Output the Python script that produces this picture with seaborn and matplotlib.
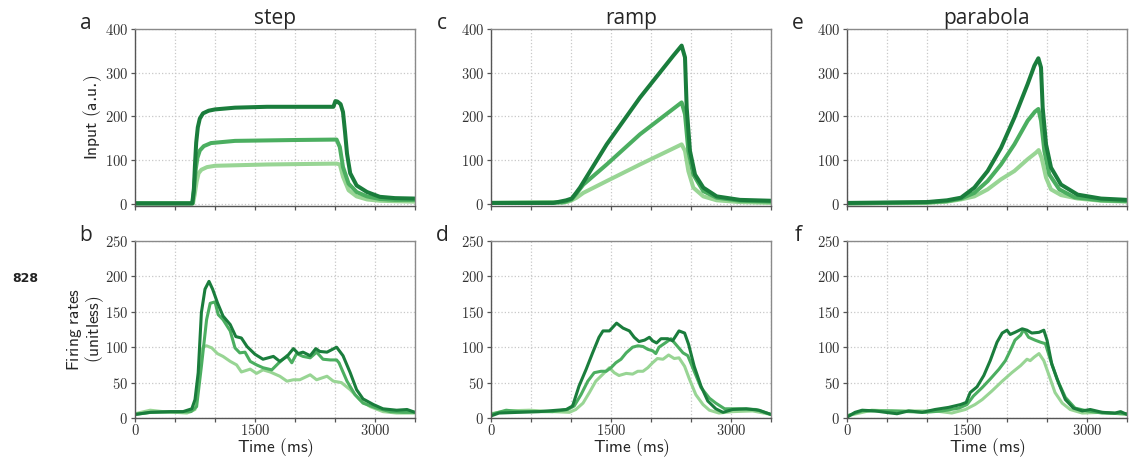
import numpy as np
import pandas as pd
import seaborn as sns
import matplotlib
matplotlib.use("Agg")
import matplotlib.pyplot as plt
from matplotlib.ticker import FuncFormatter, MultipleLocator

# ---------------- data ----------------
levels = ["low", "mid", "high"]
colors = {"low": "#98d594", "mid": "#4bae60", "high": "#1a7d3c"}

# step input (panel a)
step_in_t_high = [0, 715, 735, 750, 765, 785, 810, 850, 920, 1000, 1250, 1650, 2480, 2505, 2530, 2570, 2600, 2625, 2650, 2690, 2770, 2900, 3060, 3250, 3500]
step_in_high   = [1, 1, 30, 90, 140, 175, 195, 207, 213, 216, 220, 222, 222, 235, 234, 228, 210, 165, 115, 70, 42, 27, 16, 13, 12]
step_in_t_mid  = [0, 720, 740, 760, 780, 810, 860, 950, 1250, 2000, 2520, 2560, 2600, 2670, 2770, 2900, 3060, 3250, 3500]
step_in_mid    = [1, 1, 40, 80, 105, 122, 132, 139, 144, 146, 147, 130, 84, 46, 27, 17, 11, 9, 9]
step_in_t_low  = [0, 725, 745, 770, 795, 830, 900, 1000, 1650, 2520, 2560, 2600, 2670, 2770, 2900, 3060, 3250, 3500]
step_in_low    = [1, 1, 20, 50, 70, 78, 84, 87, 90, 92, 90, 62, 31, 17, 10, 7, 6, 5]

# ramp input (panel c)
ramp_in_t_high = [0, 780, 862, 940, 1008, 1060, 1112, 1446, 1862, 2279, 2383, 2425, 2446, 2487, 2550, 2654, 2821, 3112, 3500]
ramp_in_high   = [2, 2, 5, 8, 12, 24, 37, 136, 243, 339, 362, 335, 220, 121, 67, 37, 17, 9, 7]
ramp_in_t_mid  = [0, 900, 1008, 1070, 1154, 1446, 1862, 2383, 2425, 2467, 2529, 2654, 2821, 3112, 3500]
ramp_in_mid    = [2, 3, 10, 24, 44, 90, 159, 232, 205, 121, 67, 29, 14, 7, 5]
ramp_in_t_low  = [0, 950, 1008, 1070, 1154, 1446, 1862, 2383, 2425, 2467, 2529, 2654, 2821, 3112, 3500]
ramp_in_low    = [2, 4, 8, 14, 25, 52, 90, 136, 121, 75, 37, 17, 8, 4, 2]

# parabola input (panel e)
para_in_t_high = [0, 1000, 1250, 1425, 1592, 1758, 1925, 2092, 2258, 2342, 2392, 2425, 2446, 2488, 2550, 2675, 2883, 3175, 3500]
para_in_high   = [2, 4, 8, 14, 37, 75, 128, 197, 274, 316, 333, 312, 220, 136, 83, 44, 21, 12, 9]
para_in_t_mid  = [0, 1000, 1250, 1425, 1592, 1758, 1925, 2092, 2258, 2350, 2392, 2425, 2467, 2529, 2654, 2842, 3175, 3500]
para_in_mid    = [1, 3, 6, 12, 25, 52, 90, 136, 190, 211, 217, 190, 121, 67, 33, 15, 8, 6]
para_in_t_low  = [0, 1000, 1250, 1425, 1592, 1758, 1925, 2092, 2258, 2362, 2396, 2433, 2488, 2550, 2675, 2883, 3175, 3500]
para_in_low    = [1, 2, 5, 10, 17, 33, 56, 75, 102, 117, 123, 105, 60, 33, 20, 12, 7, 5]

# firing rates, step (panel b)
step_fr_t_high = [0, 190, 440, 600, 710, 750, 790, 830, 875, 925, 970, 1030, 1100, 1190, 1260, 1330, 1400, 1500, 1600, 1730, 1810, 1900, 1980, 2040, 2100, 2190, 2260, 2310, 2400, 2520, 2600, 2690, 2770, 2850, 2980, 3100, 3270, 3400, 3500]
step_fr_high   = [5, 8, 9, 9, 13, 26, 64, 149, 182, 193, 182, 163, 144, 132, 115, 113, 101, 90, 83, 87, 80, 87, 98, 91, 93, 88, 98, 94, 93, 100, 88, 64, 40, 27, 19, 13, 11, 12, 8]
step_fr_t_mid  = [0, 200, 700, 770, 830, 895, 940, 1000, 1040, 1100, 1190, 1250, 1310, 1375, 1440, 1520, 1600, 1710, 1790, 1900, 1960, 2020, 2100, 2190, 2270, 2350, 2440, 2520, 2550, 2650, 2750, 2850, 3020, 3190, 3350, 3500]
step_fr_mid    = [5, 8, 9, 16, 73, 139, 162, 164, 146, 139, 123, 99, 92, 93, 80, 75, 71, 68, 77, 88, 78, 91, 87, 85, 93, 83, 82, 82, 78, 52, 33, 21, 14, 9, 8, 8]
step_fr_t_low  = [0, 190, 350, 650, 750, 790, 820, 855, 895, 960, 1030, 1100, 1190, 1270, 1330, 1440, 1520, 1600, 1690, 1810, 1900, 1980, 2060, 2190, 2270, 2400, 2480, 2580, 2690, 2810, 2940, 3100, 3270, 3500]
step_fr_low    = [6, 11, 9, 7, 12, 50, 92, 101, 102, 99, 91, 87, 80, 75, 65, 69, 63, 68, 65, 59, 52, 54, 54, 61, 54, 59, 52, 50, 40, 26, 16, 9, 7, 7]

# firing rates, ramp (panel d)
ramp_fr_t_high = [0, 100, 350, 600, 940, 1020, 1100, 1190, 1270, 1350, 1400, 1480, 1570, 1650, 1730, 1790, 1850, 1920, 1980, 2020, 2070, 2125, 2210, 2270, 2350, 2420, 2470, 2540, 2625, 2710, 2810, 2900, 3020, 3190, 3350, 3500]
ramp_fr_high   = [3, 7, 8, 9, 12, 17, 45, 69, 92, 114, 123, 123, 134, 127, 123, 114, 108, 110, 114, 109, 106, 112, 112, 109, 123, 120, 104, 73, 45, 24, 13, 8, 12, 13, 11, 5]
ramp_fr_t_mid  = [0, 190, 350, 770, 960, 1040, 1125, 1210, 1290, 1375, 1440, 1500, 1560, 1625, 1690, 1770, 1835, 1900, 1960, 2020, 2060, 2100, 2190, 2250, 2310, 2400, 2460, 2540, 2625, 2730, 2810, 2920, 3100, 3310, 3500]
ramp_fr_mid    = [5, 11, 9, 9, 12, 17, 33, 52, 64, 66, 66, 71, 78, 83, 92, 100, 102, 101, 97, 95, 91, 100, 107, 112, 104, 92, 88, 66, 43, 28, 21, 13, 13, 12, 5]
ramp_fr_t_low  = [0, 190, 480, 770, 980, 1060, 1150, 1230, 1310, 1400, 1480, 1540, 1600, 1690, 1770, 1835, 1900, 1960, 2020, 2080, 2150, 2220, 2290, 2350, 2420, 2480, 2560, 2650, 2730, 2850, 3020, 3270, 3500]
ramp_fr_low    = [6, 10, 11, 9, 8, 12, 21, 36, 52, 62, 71, 64, 60, 63, 62, 66, 66, 71, 78, 84, 83, 89, 84, 85, 73, 55, 33, 19, 11, 7, 9, 10, 5]

# firing rates, parabola (panel f)
para_fr_t_high = [0, 100, 190, 350, 480, 625, 770, 940, 1100, 1270, 1420, 1490, 1540, 1625, 1710, 1790, 1875, 1940, 2000, 2040, 2100, 2190, 2250, 2310, 2400, 2460, 2500, 2560, 2650, 2730, 2830, 2940, 3040, 3190, 3350, 3420, 3500]
para_fr_high   = [1, 8, 11, 10, 8, 6, 10, 8, 12, 15, 19, 22, 36, 44, 60, 81, 107, 120, 124, 118, 121, 126, 124, 120, 121, 124, 110, 76, 48, 26, 14, 10, 12, 8, 7, 9, 5]
para_fr_t_mid  = [0, 190, 560, 980, 1190, 1400, 1500, 1580, 1690, 1790, 1900, 1980, 2040, 2100, 2170, 2210, 2270, 2350, 2420, 2480, 2540, 2625, 2730, 2850, 3000, 3190, 3500]
para_fr_mid    = [3, 10, 10, 8, 10, 14, 19, 31, 43, 55, 69, 81, 95, 110, 117, 125, 114, 110, 107, 105, 83, 55, 29, 14, 10, 7, 6]
para_fr_t_low  = [0, 310, 560, 850, 1100, 1310, 1480, 1600, 1690, 1810, 1940, 2060, 2170, 2250, 2290, 2340, 2400, 2460, 2520, 2600, 2690, 2790, 2940, 3190, 3500]
para_fr_low    = [3, 11, 10, 10, 10, 7, 12, 19, 26, 38, 52, 64, 74, 83, 81, 86, 91, 81, 62, 36, 21, 12, 7, 8, 5]

titles = ["step", "ramp", "parabola"]
top_letters = ["a", "c", "e"]
bottom_letters = ["b", "d", "f"]

def frame(pairs):
    rows = []
    for lev, t, v in pairs:
        rows.append(pd.DataFrame({"t": t, "v": v, "level": lev}))
    return pd.concat(rows, ignore_index=True)

inputs = [
    frame([("low", step_in_t_low, step_in_low), ("mid", step_in_t_mid, step_in_mid), ("high", step_in_t_high, step_in_high)]),
    frame([("low", ramp_in_t_low, ramp_in_low), ("mid", ramp_in_t_mid, ramp_in_mid), ("high", ramp_in_t_high, ramp_in_high)]),
    frame([("low", para_in_t_low, para_in_low), ("mid", para_in_t_mid, para_in_mid), ("high", para_in_t_high, para_in_high)]),
]
rates = [
    frame([("low", step_fr_t_low, step_fr_low), ("mid", step_fr_t_mid, step_fr_mid), ("high", step_fr_t_high, step_fr_high)]),
    frame([("low", ramp_fr_t_low, ramp_fr_low), ("mid", ramp_fr_t_mid, ramp_fr_mid), ("high", ramp_fr_t_high, ramp_fr_high)]),
    frame([("low", para_fr_t_low, para_fr_low), ("mid", para_fr_t_mid, para_fr_mid), ("high", para_fr_t_high, para_fr_high)]),
]

# ---------------- style ----------------
sns.set_style("ticks")
plt.rcParams["mathtext.fontset"] = "cm"
plt.rcParams["font.family"] = ["DejaVu Sans"]

fig = plt.figure(figsize=(11.38, 4.61), dpi=100)
W, H = 1138.0, 461.0
lefts = [135, 491, 847]
aw = 280

math_fmt = FuncFormatter(lambda v, p: "$%d$" % int(round(v)))
def x_fmt(v, p):
    iv = int(round(v))
    return "$%d$" % iv if iv in (0, 1500, 3000) else ""

def style(ax, ystep, bottom_row):
    ax.set_xlim(0, 3500)
    ax.xaxis.set_major_locator(MultipleLocator(500))
    ax.yaxis.set_major_locator(MultipleLocator(ystep))
    ax.yaxis.set_major_formatter(math_fmt)
    ax.xaxis.set_major_formatter(FuncFormatter(x_fmt))
    ax.grid(True, linestyle=":", color="#c8c8c8", linewidth=0.9)
    ax.set_axisbelow(True)
    for s in ["left", "bottom"]:
        ax.spines[s].set_color("#555555")
        ax.spines[s].set_linewidth(1.0)
    for s in ["top", "right"]:
        ax.spines[s].set_color("#8a8a8a")
        ax.spines[s].set_linewidth(1.0)
    ax.tick_params(axis="both", direction="out", length=3.0, width=0.9,
                   color="#555555", labelsize=10.5, labelcolor="#333333", pad=2)
    ax.tick_params(axis="x", pad=0.5)
    if not bottom_row:
        ax.tick_params(axis="x", labelbottom=False)
    ax.set_xlabel("")
    ax.set_ylabel("")
    leg = ax.get_legend()
    if leg is not None:
        leg.remove()

sans = ["Open Sans", "DejaVu Sans"]
for i in range(3):
    # top row
    axt = fig.add_axes([lefts[i] / W, 1 - 206 / H, aw / W, 177 / H])
    sns.lineplot(data=inputs[i], x="t", y="v", hue="level", hue_order=levels,
                 palette=colors, estimator=None, sort=False, linewidth=2.9, ax=axt)
    axt.set_ylim(-5, 400)
    style(axt, 100, False)
    axt.set_title(titles[i], fontsize=15, family=sans, pad=3)
    axt.text(-0.175, 1.0, top_letters[i], transform=axt.transAxes, ha="center",
             va="baseline", fontsize=15, family=sans)

    # bottom row
    axb = fig.add_axes([lefts[i] / W, 1 - 418 / H, aw / W, 177 / H])
    sns.lineplot(data=rates[i], x="t", y="v", hue="level", hue_order=levels,
                 palette=colors, estimator=None, sort=False, linewidth=2.2, ax=axb)
    axb.set_ylim(0, 250)
    style(axb, 50, True)
    axb.set_xlabel(r"$\mathsf{Time\ (ms)}$", fontsize=12.5, labelpad=-1)
    axb.text(-0.175, 1.0, bottom_letters[i], transform=axb.transAxes, ha="center",
             va="baseline", fontsize=15, family=sans)
    if i == 0:
        axt.set_ylabel(r"$\mathsf{Input\ (a}$.$\mathsf{u}$.$\mathsf{)}$", fontsize=12.5)
        axt.yaxis.set_label_coords(-0.111, 0.5)
        axb.set_ylabel(r"$\mathsf{Firing\ rates}$" + "\n" + r"$\mathsf{(unitless)}$",
                       fontsize=12.5, linespacing=0.95)
        axb.yaxis.set_label_coords(-0.104, 0.5)

fig.text(25 / W, 1 - 278 / H, "828", ha="center", va="center", fontsize=9,
         fontweight="bold", color="#222222")

fig.savefig("out.png", dpi=100)
